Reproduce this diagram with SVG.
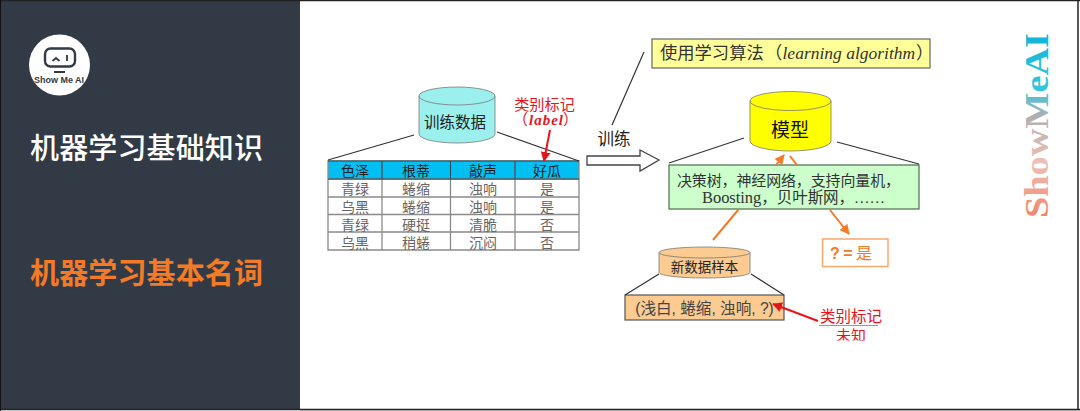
<svg xmlns="http://www.w3.org/2000/svg" width="1080" height="411" viewBox="0 0 1080 411">
<style>
.cn{font-family:"Liberation Sans","Noto Sans CJK SC",sans-serif}
.se{font-family:"Liberation Serif","Noto Sans CJK SC",serif}
.cell{font-size:14px;fill:#666;text-anchor:middle}
.head{font-size:14px;fill:#222;text-anchor:middle}
.ln{stroke:#333;stroke-width:1.2;fill:none}
.or{stroke:#f47a26;stroke-width:2;fill:none}
.red{stroke:#e8141c;stroke-width:2;fill:none}
.grid{stroke:#8a8a8a;stroke-width:1.3;fill:none}
.cyl{stroke:#777;stroke-width:.8}
</style>
<defs>
<marker id="aO" viewBox="0 0 10 10" refX="9" refY="5" markerWidth="5" markerHeight="5" orient="auto-start-reverse"><path d="M0 0L10 5L0 10Z" fill="#f47a26"/></marker>
<marker id="aR" viewBox="0 0 10 10" refX="9" refY="5" markerWidth="5" markerHeight="5" orient="auto-start-reverse"><path d="M0 0L10 5L0 10Z" fill="#e8141c"/></marker>
<linearGradient id="wm" x1="0" y1="0" x2="1" y2="0"><stop offset="0" stop-color="#f0856a"/><stop offset=".3" stop-color="#edc0b6"/><stop offset=".55" stop-color="#b0b0b0"/><stop offset=".7" stop-color="#35c5dc"/><stop offset="1" stop-color="#0fb4d8"/></linearGradient>
<clipPath id="noteClip"><rect x="800" y="300" width="100" height="40.500"/></clipPath>
</defs>
<rect width="1080" height="411" fill="#fff"/>
<g id="sidebar">
<rect x="0" y="0" width="300" height="409" fill="#323a45"/>
<circle cx="59.500" cy="65" r="30.500" fill="#fff"/>
<rect x="45" y="48.500" width="30" height="18" rx="5.500" fill="none" stroke="#323a45" stroke-width="2.400"/>
<path d="M52.500 61l3.500-3 3.500 3M67 55v6M54 72h11" fill="none" stroke="#323a45" stroke-width="1.800"/>
<text x="34" y="83" font-size="9" font-weight="700" fill="#323a45" class="cn" textLength="50" lengthAdjust="spacingAndGlyphs">Show Me AI</text>
<text x="30" y="159" font-size="29" font-weight="500" fill="#fff" class="cn" textLength="233">机器学习基础知识</text>
<text x="30" y="284" font-size="29" font-weight="700" fill="#f47a26" class="cn" textLength="233">机器学习基本名词</text>
</g>
<g id="training-data">
<path class="cyl" d="M419 96V134A38 9 0 0 0 495 134V96Z" fill="#9bf0ee"/>
<ellipse class="cyl" cx="457" cy="96" rx="38" ry="9" fill="#9bf0ee"/>
<text x="455" y="128" font-size="15.500" fill="#222" text-anchor="middle" class="cn">训练数据</text>
</g>
<g id="data-table">
<rect x="328" y="161" width="251" height="18" fill="#00bff3"/>
<path class="grid" d="M328 161H579V250H328ZM328 179H579M328 197H579M328 214.500H579M328 232H579M382 161V250M450.500 161V250M515 161V250"/>
<path d="M328 161H579M328 179H579M382 161V179M450.500 161V179M515 161V179" stroke="#1c4a5a" stroke-width="1" fill="none"/>
<g class="cn">
<text class="head" x="355" y="176">色泽</text><text class="head" x="416" y="176">根蒂</text><text class="head" x="483" y="176">敲声</text><text class="head" x="547" y="176">好瓜</text>
<text class="cell" x="355" y="194">青绿</text><text class="cell" x="416" y="194">蜷缩</text><text class="cell" x="483" y="194">浊响</text><text class="cell" x="547" y="194">是</text>
<text class="cell" x="355" y="212">乌黑</text><text class="cell" x="416" y="212">蜷缩</text><text class="cell" x="483" y="212">浊响</text><text class="cell" x="547" y="212">是</text>
<text class="cell" x="355" y="230">青绿</text><text class="cell" x="416" y="230">硬挺</text><text class="cell" x="483" y="230">清脆</text><text class="cell" x="547" y="230">否</text>
<text class="cell" x="355" y="248">乌黑</text><text class="cell" x="416" y="248">稍蜷</text><text class="cell" x="483" y="248">沉闷</text><text class="cell" x="547" y="248">否</text>
</g>
</g>
<g id="label-note">
<text x="544.500" y="110" font-size="15.200" fill="#e8141c" text-anchor="middle" class="cn">类别标记</text>
<text y="125" font-size="15" fill="#e8141c" class="se"><tspan x="513">（</tspan><tspan x="529" font-style="italic" font-weight="700" letter-spacing="1">label</tspan><tspan x="563">）</tspan></text>
</g>
<g id="train-label"><text x="614" y="145" font-size="16.500" fill="#222" text-anchor="middle" class="cn">训练</text></g>
<g id="algorithm">
<rect x="652" y="39" width="278" height="29" fill="#ffff99" stroke="#666" stroke-width="1.200"/>
<text y="59" font-size="17.300" fill="#333" class="se"><tspan x="660">使用学习算法</tspan><tspan x="765">（</tspan><tspan x="782.500" font-size="17.500" font-style="italic">learning algorithm</tspan><tspan x="916">）</tspan></text>
</g>
<g id="model">
<path class="cyl" d="M750 101V141A40.500 10 0 0 0 831 141V101Z" fill="#ffff00"/>
<ellipse class="cyl" cx="790.500" cy="101" rx="40.500" ry="9.500" fill="#ffff00"/>
<text x="790" y="137" font-size="19" fill="#111" text-anchor="middle" class="cn">模型</text>
</g>
<g id="algorithms">
<rect x="669" y="165" width="250" height="44" fill="#ccffcc" stroke="#4c6b4c" stroke-width="1.200"/>
<text x="677" y="186" font-size="15" fill="#333" class="se" textLength="223">决策树，神经网络，支持向量机，</text>
<text x="702" y="203" font-size="15.500" fill="#333" class="se" textLength="183"><tspan font-size="16.500">Boosting</tspan>，贝叶斯网，……</text>
</g>
<g id="result">
<rect x="822.500" y="239" width="65.500" height="27.500" fill="#fff" stroke="#f9a66c" stroke-width="1.500"/>
<text x="830" y="259" font-size="16" fill="#f47a26" class="cn" textLength="42"><tspan font-weight="700">? =</tspan> 是</text>
</g>
<g id="new-sample">
<path class="cyl" d="M659 252.500V272.500A45.500 5.500 0 0 0 750 272.500V252.500Z" fill="#fbcb91"/>
<ellipse class="cyl" cx="704.500" cy="252.500" rx="45.500" ry="5.500" fill="#fbcb91"/>
<text x="704.500" y="272" font-size="13.500" fill="#222" text-anchor="middle" class="cn">新数据样本</text>
</g>
<g id="sample-row">
<rect x="625" y="295" width="159" height="25" fill="#fbcb91" stroke="#555" stroke-width="1.200"/>
<text x="704.500" y="314" font-size="15.600" fill="#444" text-anchor="middle" class="cn">(浅白, 蜷缩, 浊响, ?)</text>
</g>
<g id="unknown-note" clip-path="url(#noteClip)">
<text x="851" y="322" font-size="15.500" fill="#e8141c" text-anchor="middle" class="cn">类别标记</text>
<path d="M819 325.500H878" stroke="#999" stroke-width="1"/>
<text x="851" y="341" font-size="15" fill="#e8141c" text-anchor="middle" class="cn">未知</text>
</g>
<g id="watermark">
<text transform="translate(1048 218) rotate(-90)" font-size="33" font-weight="700" fill="url(#wm)" class="se" textLength="185" lengthAdjust="spacingAndGlyphs">ShowMeAI</text>
</g>
<g id="connectors">
<path class="ln" d="M328 160L414 135M497 132L579 161"/>
<path class="ln" d="M612 125L644 52"/>
<path class="ln" d="M669 163L744 138M837 142L919 164"/>
<path class="ln" d="M625 295L659 274M751 274L784 295"/>
<path class="red" marker-end="url(#aR)" d="M550 130L544 161"/>
<path class="or" marker-end="url(#aO)" d="M776 165L784 155"/>
<path class="or" d="M797 165L790 156"/>
<path class="or" d="M713 240L738.500 209.500"/>
<path class="or" marker-end="url(#aO)" d="M830 210L849 234"/>
<path class="red" marker-end="url(#aR)" d="M818 321L773 304"/>
<path d="M587 156H640V150L659 160L640 171V165H587Z" fill="#fff" stroke="#444" stroke-width="1.300"/>
</g>
<g id="frame">
<path d="M0 .5H1080M1078 0V409M0 409.500H1080" stroke="#222" stroke-width="1.500" fill="none"/>
<rect x="0" y="0" width="1" height="411" fill="#111"/>
<rect x="300" y="410" width="780" height="1" fill="#aaa"/>
</g>
</svg>
